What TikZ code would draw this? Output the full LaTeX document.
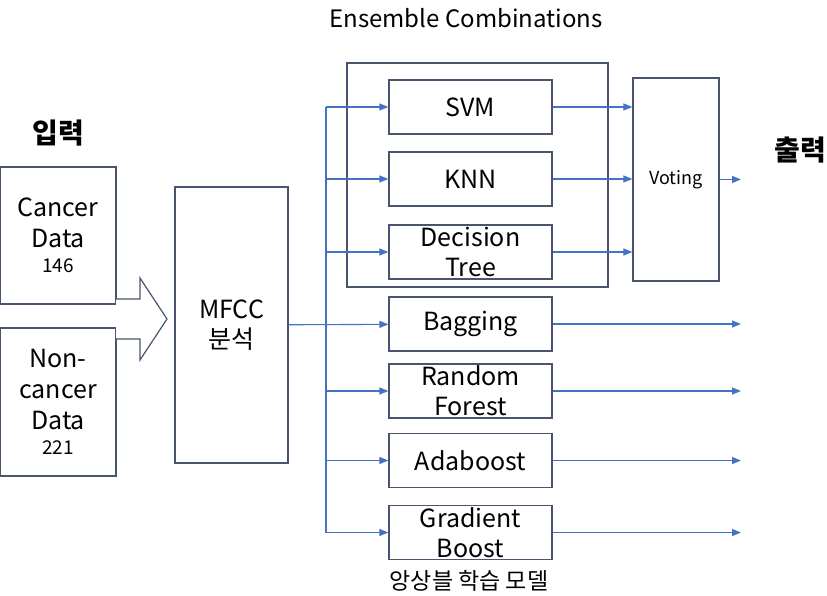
\documentclass[tikz,border=0pt]{standalone}
\usepackage{fontspec}
\setmainfont{Noto Sans CJK KR}
\usetikzlibrary{arrows.meta,positioning}

\definecolor{boxline}{RGB}{72,84,112}
\definecolor{arrowblue}{RGB}{68,114,196}

\tikzset{
  model/.style={draw=boxline,line width=1.2pt,minimum width=163pt,minimum height=54pt,
    inner sep=0pt,align=center,font=\fontsize{25}{30}\selectfont},
  databox/.style={draw=boxline,line width=1.2pt,minimum width=116pt,inner sep=0pt,align=center,
    font=\fontsize{25}{31}\selectfont},
  arr/.style={draw=arrowblue,line width=1.1pt,-{Triangle[length=9pt,width=7pt]}},
  feed/.style={draw=arrowblue,line width=1.1pt}
}

\begin{document}
\begin{tikzpicture}[x=1pt,y=-1pt]
  \useasboundingbox (0,0) rectangle (827,596);

  % input side
  \node[font=\bfseries\fontsize{28}{30}\selectfont] (inlabel) at (58,133) {입력};
  \node[databox,minimum height=137pt] (cancer) at (58,235.5)
    {Cancer\\Data\\[-6pt]{\fontsize{19}{20}\selectfont 146}};
  \node[databox,minimum height=148pt] (noncancer) at (58,402)
    {Non-\\cancer\\Data\\[-6pt]{\fontsize{19}{20}\selectfont 221}};
  \draw[boxline,line width=1.2pt,fill=white] (116,299) -- (140,299) -- (140,278) -- (167,319)
    -- (140,360) -- (140,339) -- (116,339);

  \node[draw=boxline,line width=1.2pt,minimum width=113pt,minimum height=276pt,inner sep=0pt,
    align=center,font=\fontsize{25}{30}\selectfont] (mfcc) at (231.5,325) {MFCC\\분석};

  % ensemble combinations
  \node[font=\fontsize{24}{26}\selectfont] (enstitle) at (466,18) {Ensemble Combinations};
  \draw[boxline,line width=1.2pt] (347,63) rectangle (608,287);

  \node[model] (svm) at (470.5,107) {SVM};
  \node[model] (knn) at (470.5,179) {KNN};
  \node[model] (dt)  at (470.5,252) {Decision\\Tree};
  \node[model] (bag) at (470.5,324) {Bagging};
  \node[model] (rf)  at (470.5,391) {Random\\Forest};
  \node[model] (ada) at (470.5,460.5) {Adaboost};
  \node[model] (gb)  at (470.5,532.5) {Gradient\\Boost};
  \node[font=\fontsize{23}{26}\selectfont] (modellabel) at (469,581) {앙상블 학습 모델};

  \node[draw=boxline,line width=1.2pt,minimum width=86pt,minimum height=203pt,inner sep=0pt,
    font=\fontsize{18}{20}\selectfont] (vote) at (676,179.5) {Voting};
  \node[font=\bfseries\fontsize{28}{30}\selectfont] (outlabel) at (800,150) {출력};

  % connectors
  \coordinate (split) at (326,0);
  \coordinate (outx) at (741,0);
  \draw[arr] (mfcc) -- (bag);
  \draw[feed] (split |- svm) -- (split |- gb);
  \foreach \m in {svm,knn,dt,rf,ada,gb}
    \draw[arr] (split |- \m) -- (\m);
  \foreach \m in {svm,knn,dt}
    \draw[arr] (\m) -- (\m -| vote.west);
  \draw[arr] (vote) -- (vote -| outx);
  \foreach \m in {bag,rf,ada,gb}
    \draw[arr] (\m) -- (\m -| outx);
\end{tikzpicture}
\end{document}
